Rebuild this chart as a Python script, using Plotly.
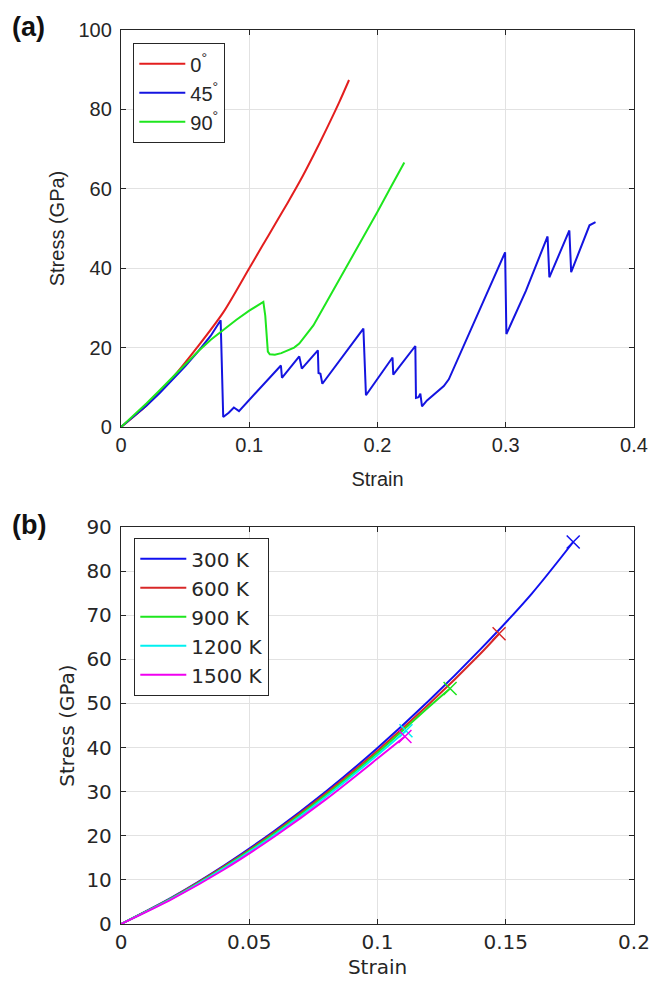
import plotly.graph_objects as go

# ---------------- panel (a): loading direction ----------------
strain_0deg = [0, 0.02, 0.04, 0.06, 0.08, 0.10, 0.11, 0.12, 0.13, 0.14, 0.15, 0.16, 0.17, 0.1778]
stress_0deg = [0, 5.5, 12.3, 20.3, 29.0, 40.0, 45.5, 51.0, 56.5, 62.2, 68.4, 74.9, 81.7, 87.4]

strain_45deg = [0, 0.01, 0.02, 0.03, 0.04, 0.05, 0.06, 0.07, 0.0777, 0.0785, 0.0797, 0.084,
                0.088, 0.092, 0.1247, 0.1255, 0.139, 0.141, 0.1535, 0.154, 0.1555, 0.157,
                0.189, 0.191, 0.2117, 0.2123, 0.2295, 0.230, 0.232, 0.2334, 0.2347, 0.2386,
                0.2426, 0.2517, 0.2556, 0.266, 0.279, 0.2995, 0.3005, 0.3157, 0.3326, 0.334,
                0.3496, 0.351, 0.3653, 0.370]
stress_45deg = [0, 2.6, 5.4, 8.5, 11.8, 15.3, 19.0, 23.0, 26.9, 15.0, 2.5, 3.6,
                4.9, 4.0, 15.5, 12.4, 17.8, 14.7, 19.3, 13.6, 13.4, 10.9,
                24.8, 8.0, 17.5, 13.2, 20.4, 7.3, 7.5, 8.4, 5.2, 6.7,
                7.8, 10.3, 12.0, 19.6, 28.9, 44.0, 23.4, 34.3, 48.0, 37.7,
                49.5, 39.0, 50.8, 51.6]

strain_90deg = [0, 0.01, 0.02, 0.03, 0.04, 0.05, 0.06, 0.07, 0.08, 0.09, 0.10, 0.107, 0.111,
                0.1125, 0.1135, 0.1145, 0.116, 0.12, 0.125, 0.13, 0.135, 0.139, 0.143, 0.147,
                0.15, 0.16, 0.17, 0.18, 0.19, 0.20, 0.21, 0.2209]
stress_90deg = [0, 2.9, 6.0, 9.2, 12.5, 15.8, 19.0, 22.0, 24.6, 27.0, 29.3, 30.8, 31.5,
                28.0, 22.0, 19.0, 18.3, 18.2, 18.6, 19.3, 20.0, 21.0, 22.6, 24.2,
                25.6, 31.3, 37.0, 42.7, 48.4, 54.2, 60.2, 66.6]

angle_labels = ["0<sup>°</sup>", "45<sup>°</sup>", "90<sup>°</sup>"]
angle_colors = ["#e31e1e", "#1414e0", "#1ee61e"]
angle_shapes = ["spline", "linear", "linear"]

# ---------------- panel (b): temperature ----------------
strain_300K = [0, 0.02, 0.04, 0.06, 0.08, 0.10, 0.12, 0.14, 0.16, 0.1763]
stress_300K = [0, 6.1, 13.2, 21.2, 30.1, 39.9, 50.6, 62.2, 74.8, 86.6]
strain_600K = [0, 0.02, 0.04, 0.06, 0.08, 0.10, 0.12, 0.14, 0.1474]
stress_600K = [0, 6.0, 13.0, 20.9, 29.7, 39.3, 49.8, 61.2, 65.8]
strain_900K = [0, 0.02, 0.04, 0.06, 0.08, 0.10, 0.12, 0.1283]
stress_900K = [0, 5.9, 12.8, 20.6, 29.3, 38.8, 49.2, 53.4]
strain_1200K = [0, 0.02, 0.04, 0.06, 0.08, 0.10, 0.1111]
stress_1200K = [0, 5.8, 12.6, 20.3, 28.9, 38.3, 43.8]
strain_1500K = [0, 0.02, 0.04, 0.06, 0.08, 0.10, 0.1107]
stress_1500K = [0, 5.7, 12.3, 19.9, 28.3, 37.5, 42.5]

temp_labels = ["300 K", "600 K", "900 K", "1200 K", "1500 K"]
temp_colors = ["#1010f0", "#d82828", "#1ee61e", "#00f0f0", "#f000f0"]

# axis ticks
xticks_a = [0, 0.1, 0.2, 0.3, 0.4]
xticktext_a = ["0", "0.1", "0.2", "0.3", "0.4"]
yticks_a = [0, 20, 40, 60, 80, 100]
xticks_b = [0, 0.05, 0.1, 0.15, 0.2]
xticktext_b = ["0", "0.05", "0.1", "0.15", "0.2"]
yticks_b = [0, 10, 20, 30, 40, 50, 60, 70, 80, 90]

W, H = 652, 986
INK = "#262626"
GRID = "#e2e2e2"
FONT_A = "Liberation Sans, Arial, sans-serif"
FONT_B = "DejaVu Sans, sans-serif"

fig = go.Figure()

for xs, ys, name, col, shp in zip([strain_0deg, strain_45deg, strain_90deg],
                                  [stress_0deg, stress_45deg, stress_90deg],
                                  angle_labels, angle_colors, angle_shapes):
    fig.add_trace(go.Scatter(x=xs, y=ys, mode="lines", name=name,
                             line=dict(color=col, width=2, shape=shp, smoothing=0.8),
                             xaxis="x", yaxis="y", legend="legend"))

temp_x = [strain_300K, strain_600K, strain_900K, strain_1200K, strain_1500K]
temp_y = [stress_300K, stress_600K, stress_900K, stress_1200K, stress_1500K]
for xs, ys, name, col in zip(temp_x, temp_y, temp_labels, temp_colors):
    fig.add_trace(go.Scatter(x=xs, y=ys, mode="lines", name=name,
                             line=dict(color=col, width=2, shape="spline", smoothing=0.8),
                             xaxis="x2", yaxis="y2", legend="legend2"))
# fracture points marked with a cross at the end of each curve
for xs, ys, name, col in zip(temp_x, temp_y, temp_labels, temp_colors):
    fig.add_trace(go.Scatter(x=[xs[-1]], y=[ys[-1]], mode="markers", showlegend=False,
                             marker=dict(symbol="x-thin", size=13,
                                         line=dict(color=col, width=1.5)),
                             xaxis="x2", yaxis="y2", hoverinfo="skip"))

xdom = [121 / W, 634 / W]
common = dict(showline=True, linecolor=INK, linewidth=1.3, mirror="ticks",
              ticks="inside", ticklen=5, tickwidth=1.2, tickcolor=INK,
              showgrid=True, gridcolor=GRID, gridwidth=1, zeroline=False,
              automargin=False)

fig.update_layout(
    width=W, height=H,
    margin=dict(l=0, r=0, t=0, b=0, autoexpand=False),
    paper_bgcolor="white", plot_bgcolor="white",
    xaxis=dict(domain=xdom, anchor="y", range=[0, 0.4], tickvals=xticks_a,
               ticktext=xticktext_a, tickfont=dict(family=FONT_A, size=20, color=INK),
               title=dict(text="Strain", font=dict(family=FONT_A, size=20, color=INK),
                          standoff=16), **common),
    yaxis=dict(domain=[1 - 427 / H, 1 - 30 / H], anchor="x", range=[0, 100],
               tickvals=yticks_a, tickfont=dict(family=FONT_A, size=20, color=INK),
               ticklabelstandoff=4,
               title=dict(text="Stress (GPa)", font=dict(family=FONT_A, size=20, color=INK),
                          standoff=8), **common),
    xaxis2=dict(domain=xdom, anchor="y2", range=[0, 0.2], tickvals=xticks_b,
                ticktext=xticktext_b, tickfont=dict(family=FONT_B, size=20, color=INK),
                title=dict(text="Strain", font=dict(family=FONT_B, size=20, color=INK),
                           standoff=6), **common),
    yaxis2=dict(domain=[1 - 924 / H, 1 - 527 / H], anchor="x2", range=[0, 90],
                tickvals=yticks_b, tickfont=dict(family=FONT_B, size=20, color=INK),
                ticklabelstandoff=4,
                title=dict(text="Stress (GPa)", font=dict(family=FONT_B, size=20, color=INK),
                           standoff=6), **common),
    legend=dict(x=133 / W, y=1 - 43 / H, xanchor="left", yanchor="top",
                bgcolor="white", bordercolor=INK, borderwidth=1.3, itemwidth=46,
                font=dict(family=FONT_A, size=20, color=INK), tracegroupgap=0),
    legend2=dict(x=134 / W, y=1 - 538 / H, xanchor="left", yanchor="top",
                 bgcolor="white", bordercolor=INK, borderwidth=1.3, itemwidth=46,
                 font=dict(family=FONT_B, size=20, color=INK), tracegroupgap=0),
    annotations=[
        dict(text="<b>(a)</b>", x=10 / W, y=1 - 27 / H, xref="paper", yref="paper",
             xanchor="left", yanchor="middle", showarrow=False,
             font=dict(family=FONT_A, size=27, color="#111111")),
        dict(text="<b>(b)</b>", x=10 / W, y=1 - 525 / H, xref="paper", yref="paper",
             xanchor="left", yanchor="middle", showarrow=False,
             font=dict(family=FONT_A, size=27, color="#111111")),
    ],
)

fig.write_html("out.html")
